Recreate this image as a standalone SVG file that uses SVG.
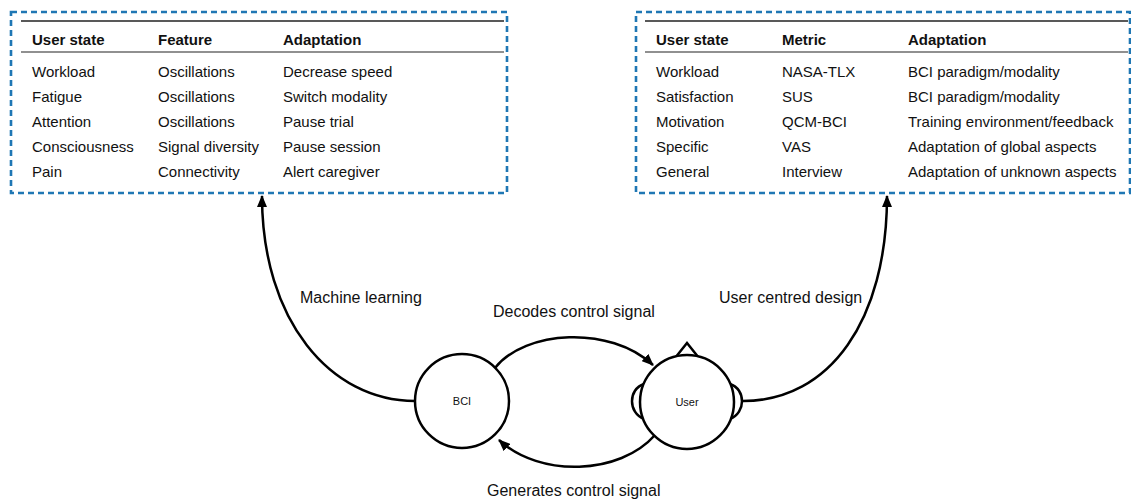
<svg xmlns="http://www.w3.org/2000/svg" width="1131" height="500" viewBox="0 0 1131 500">
<style>
.box{fill:none;stroke:#1f77b4;stroke-width:2.6;stroke-dasharray:6 4}
.rule{stroke:#222;stroke-width:1.6}
.rule2{stroke:#222;stroke-width:1.1}
.t{font-family:"Liberation Sans",Arial,sans-serif;font-size:15px;fill:#111}
.h{font-family:"Liberation Sans",Arial,sans-serif;font-size:15px;font-weight:bold;fill:#111}
.lbl{font-family:"Liberation Sans",Arial,sans-serif;font-size:16px;fill:#111}
.small{font-family:"Liberation Sans",Arial,sans-serif;font-size:11px;fill:#111;text-anchor:middle}
.node{fill:#fff;stroke:#000;stroke-width:2.5}
.conn{fill:none;stroke:#000;stroke-width:2.5}
</style>
<defs>
<marker id="arr" viewBox="0 0 12 10" refX="11" refY="5" markerWidth="12" markerHeight="10" markerUnits="userSpaceOnUse" orient="auto">
<path d="M0,0 L12,5 L0,10 Z" fill="#000"/>
</marker>
</defs>
<rect width="1131" height="500" fill="#fff"/>

<g id="left-table">
<rect class="box" x="11" y="12" width="496" height="181"/>
<line class="rule" x1="21" y1="21" x2="504" y2="21"/>
<line class="rule2" x1="21" y1="52" x2="504" y2="52"/>
<text class="h" x="32" y="45">User state</text>
<text class="h" x="158" y="45">Feature</text>
<text class="h" x="283" y="45">Adaptation</text>
<text class="t" x="32" y="77">Workload</text>
<text class="t" x="158" y="77">Oscillations</text>
<text class="t" x="283" y="77">Decrease speed</text>
<text class="t" x="32" y="102">Fatigue</text>
<text class="t" x="158" y="102">Oscillations</text>
<text class="t" x="283" y="102">Switch modality</text>
<text class="t" x="32" y="127">Attention</text>
<text class="t" x="158" y="127">Oscillations</text>
<text class="t" x="283" y="127">Pause trial</text>
<text class="t" x="32" y="152">Consciousness</text>
<text class="t" x="158" y="152">Signal diversity</text>
<text class="t" x="283" y="152">Pause session</text>
<text class="t" x="32" y="177">Pain</text>
<text class="t" x="158" y="177">Connectivity</text>
<text class="t" x="283" y="177">Alert caregiver</text>
</g>

<g id="right-table">
<rect class="box" x="636" y="12" width="494" height="181"/>
<line class="rule" x1="645" y1="21" x2="1128" y2="21"/>
<line class="rule2" x1="645" y1="52" x2="1128" y2="52"/>
<text class="h" x="656" y="45">User state</text>
<text class="h" x="782" y="45">Metric</text>
<text class="h" x="908" y="45">Adaptation</text>
<text class="t" x="656" y="77">Workload</text>
<text class="t" x="782" y="77">NASA-TLX</text>
<text class="t" x="908" y="77">BCI paradigm/modality</text>
<text class="t" x="656" y="102">Satisfaction</text>
<text class="t" x="782" y="102">SUS</text>
<text class="t" x="908" y="102">BCI paradigm/modality</text>
<text class="t" x="656" y="127">Motivation</text>
<text class="t" x="782" y="127">QCM-BCI</text>
<text class="t" x="908" y="127">Training environment/feedback</text>
<text class="t" x="656" y="152">Specific</text>
<text class="t" x="782" y="152">VAS</text>
<text class="t" x="908" y="152">Adaptation of global aspects</text>
<text class="t" x="656" y="177">General</text>
<text class="t" x="782" y="177">Interview</text>
<text class="t" x="908" y="177">Adaptation of unknown aspects</text>
</g>

<g id="connectors">
<path class="conn" d="M415,401 C330,401 262,320 262,196" marker-end="url(#arr)"/>
<path class="conn" d="M743,401 C830,401 887,320 887,196" marker-end="url(#arr)"/>
<path class="conn" d="M495,368 C525,330 610,325 653,365" marker-end="url(#arr)"/>
<path class="conn" d="M655,435 C620,475 540,478 499,440" marker-end="url(#arr)"/>
<text class="lbl" x="300" y="303">Machine learning</text>
<text class="lbl" x="719" y="303">User centred design</text>
<text class="lbl" x="493" y="317">Decodes control signal</text>
<text class="lbl" x="487" y="496">Generates control signal</text>
</g>

<g id="bci">
<circle class="node" cx="462" cy="401" r="47"/>
<text class="small" x="462" y="405">BCI</text>
</g>

<g id="user">
<path class="node" d="M675,358 L687,343 L699,358"/>
<path class="node" d="M644,384 C628,389 628,413 644,419"/>
<path class="node" d="M730,384 C746,389 746,413 730,419"/>
<circle class="node" cx="687" cy="402" r="47"/>
<text class="small" x="687" y="406">User</text>
</g>
</svg>
